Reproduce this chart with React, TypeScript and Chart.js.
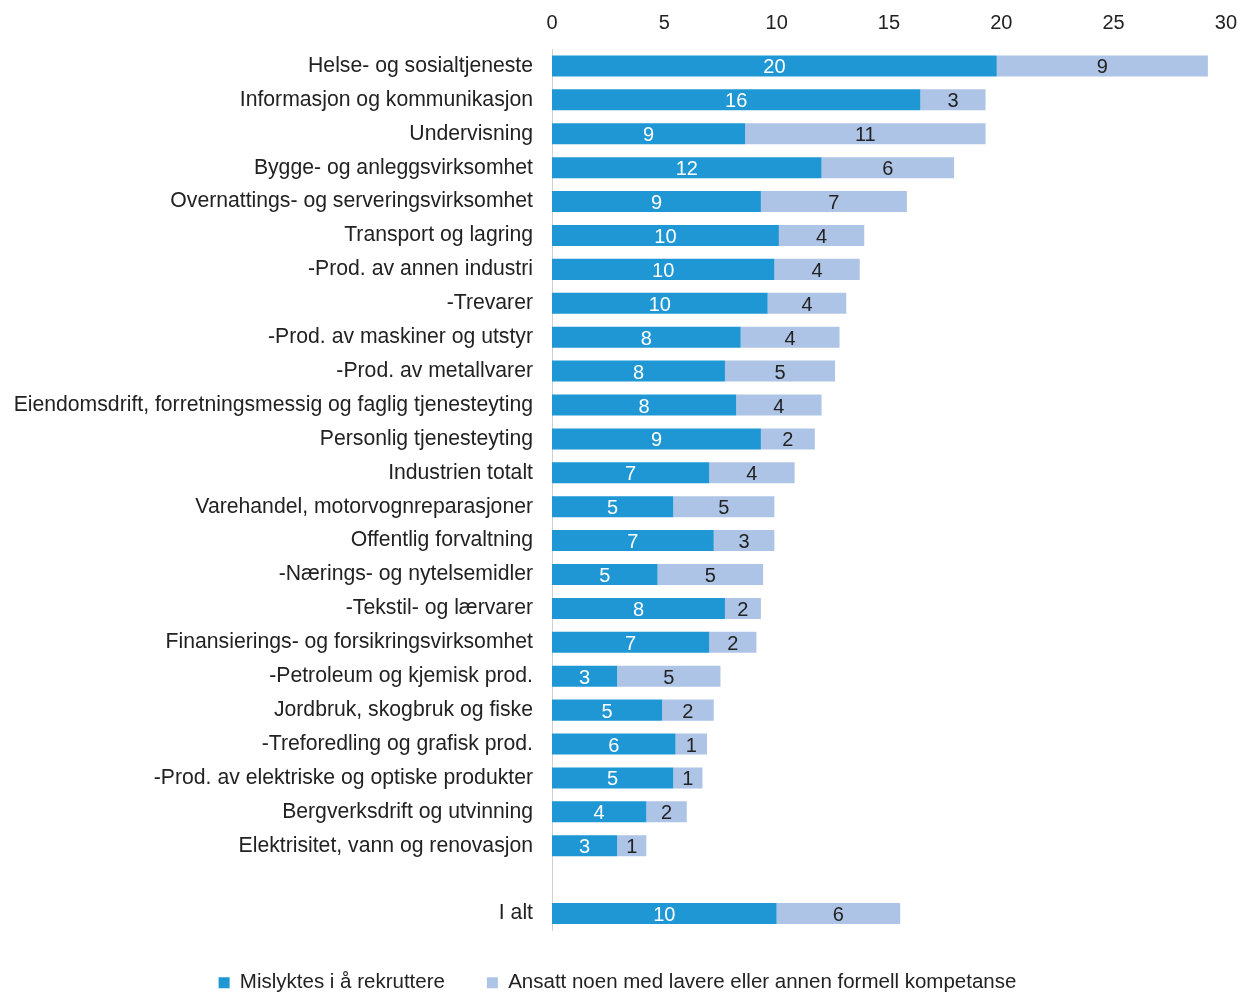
import { useEffect, useRef } from "react";
import Chart from "chart.js/auto";

const categories = [
  "Helse- og sosialtjeneste",
  "Informasjon og kommunikasjon",
  "Undervisning",
  "Bygge- og anleggsvirksomhet",
  "Overnattings- og serveringsvirksomhet",
  "Transport og lagring",
  "-Prod. av annen industri",
  "-Trevarer",
  "-Prod. av maskiner og utstyr",
  "-Prod. av metallvarer",
  "Eiendomsdrift, forretningsmessig og faglig tjenesteyting",
  "Personlig tjenesteyting",
  "Industrien totalt",
  "Varehandel, motorvognreparasjoner",
  "Offentlig forvaltning",
  "-Nærings- og nytelsemidler",
  "-Tekstil- og lærvarer",
  "Finansierings- og forsikringsvirksomhet",
  "-Petroleum og kjemisk prod.",
  "Jordbruk, skogbruk og fiske",
  "-Treforedling og grafisk prod.",
  "-Prod. av elektriske og optiske produkter",
  "Bergverksdrift og utvinning",
  "Elektrisitet, vann og renovasjon",
  "",
  "I alt",
];

const mislyktes = [19.8, 16.4, 8.6, 12.0, 9.3, 10.1, 9.9, 9.6, 8.4, 7.7, 8.2, 9.3, 7.0, 5.4, 7.2, 4.7, 7.7, 7.0, 2.9, 4.9, 5.5, 5.4, 4.2, 2.9, null, 10.0];
const ansatt = [9.4, 2.9, 10.7, 5.9, 6.5, 3.8, 3.8, 3.5, 4.4, 4.9, 3.8, 2.4, 3.8, 4.5, 2.7, 4.7, 1.6, 2.1, 4.6, 2.3, 1.4, 1.3, 1.8, 1.3, null, 5.5];

const FONT = "'Liberation Sans', Arial, sans-serif";

const valueLabels = {
  id: "valueLabels",
  afterDatasetsDraw(chart: any) {
    const ctx = chart.ctx;
    ctx.save();
    ctx.font = `20px ${FONT}`;
    ctx.textAlign = "center";
    ctx.textBaseline = "middle";
    chart.data.datasets.forEach((ds: any, i: number) => {
      ctx.fillStyle = i === 0 ? "#ffffff" : "#222222";
      chart.getDatasetMeta(i).data.forEach((bar: any, j: number) => {
        const v = ds.data[j];
        if (v == null) return;
        const { x, y, base } = bar.getProps(["x", "y", "base"], true);
        ctx.fillText(String(Math.round(v)), (x + base) / 2, y + 2);
      });
    });
    ctx.restore();
  },
};

export default function App() {
  const ref = useRef<HTMLCanvasElement>(null);

  useEffect(() => {
    if (!ref.current) return;
    const chart = new Chart(ref.current, {
      type: "bar",
      data: {
        labels: categories,
        datasets: [
          { label: "Mislyktes i å rekruttere", data: mislyktes, backgroundColor: "#1f97d4", barPercentage: 0.62, categoryPercentage: 1 },
          { label: "Ansatt noen med lavere eller annen formell kompetanse", data: ansatt, backgroundColor: "#aec4e6", barPercentage: 0.62, categoryPercentage: 1 },
        ],
      },
      options: {
        indexAxis: "y",
        animation: false,
        responsive: false,
        layout: { padding: { top: 5, right: 8, bottom: -8, left: 0 } },
        scales: {
          x: {
            position: "top",
            stacked: true,
            min: 0,
            max: 30,
            ticks: { stepSize: 5, color: "#222", font: { family: FONT, size: 20 }, padding: 6 },
            grid: { display: false },
            border: { display: false },
          },
          y: {
            stacked: true,
            afterFit: (s: any) => { s.width = 552; },
            ticks: { color: "#222", font: { family: FONT, size: 21.2 }, autoSkip: false, padding: 19 },
            grid: { display: false, drawTicks: false },
            border: { color: "#d0d0d0" },
          },
        },
        plugins: {
          tooltip: { enabled: false },
          legend: {
            position: "bottom",
            labels: { boxWidth: 11, boxHeight: 11, padding: 42, color: "#222", font: { family: FONT, size: 20.5 } },
          },
        },
      },
      plugins: [valueLabels],
    });
    return () => chart.destroy();
  }, []);

  return (
    <div style={{ position: "fixed", left: 0, top: 0, width: 1243, height: 995, background: "#fff" }}>
      <canvas ref={ref} width={1243} height={995} />
    </div>
  );
}
